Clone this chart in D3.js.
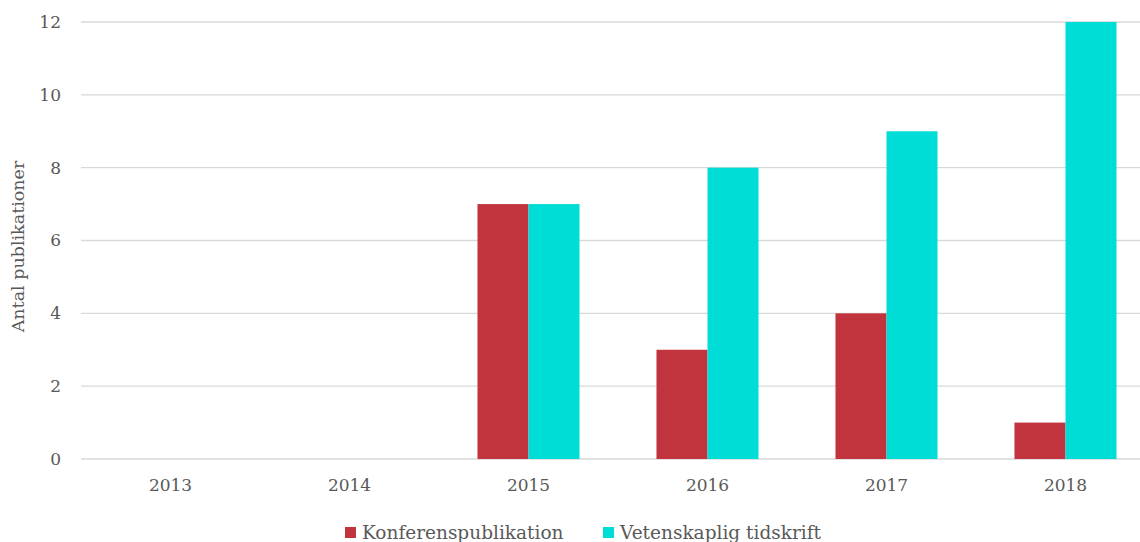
<!DOCTYPE html>
<html><head><meta charset="utf-8">
<script src="https://cdn.jsdelivr.net/npm/d3@7"></script>
<style>body{margin:0;background:#fff}svg{display:block}</style>
</head><body>
<svg id="c" width="1140" height="542"></svg>
<script>
const years = ["2013","2014","2015","2016","2017","2018"];
const seriesNames = ["Konferenspublikation","Vetenskaplig tidskrift"];
const konferens = [0,0,7,3,4,1];
const tidskrift = [0,0,7,8,9,12];
const yTicks = [0,2,4,6,8,10,12];
const colors = ["#C1343E","#00DCD6"];
const yTitle = "Antal publikationer";

(function(){
const svg = d3.select("#c");
const font = "Georgia, 'DejaVu Serif', serif";
const txt = "#595959";
const mLeft = 81, mRight = 1155, mTop = 22, mBottom = 459;

const x = d3.scaleBand().domain(years).range([mLeft, mRight]).paddingInner(0.43).paddingOuter(0.215);
const xs = d3.scaleBand().domain(seriesNames).range([0, x.bandwidth()]);
const y = d3.scaleLinear().domain([0,12]).range([mBottom, mTop]);

svg.append("g").selectAll("line").data(yTicks).join("line")
  .attr("x1", mLeft).attr("x2", mRight)
  .attr("y1", d => y(d)).attr("y2", d => y(d))
  .attr("stroke", "#d9d9d9").attr("stroke-width", 1.4);

const yAxis = svg.append("g").attr("transform", `translate(${mLeft},0)`)
  .call(d3.axisLeft(y).tickValues(yTicks).tickSize(0).tickPadding(20));
yAxis.select(".domain").remove();
yAxis.selectAll("text").attr("font-family", font).attr("font-size", 17).attr("fill", txt);

const data = years.map((yr, i) => ({yr, vals: [konferens[i], tidskrift[i]]}));
svg.append("g").selectAll("g").data(data).join("g")
  .attr("transform", d => `translate(${x(d.yr)},0)`)
  .selectAll("rect").data(d => d.vals.map((v, j) => ({v, s: seriesNames[j], j})))
  .join("rect")
  .attr("x", d => xs(d.s)).attr("width", xs.bandwidth())
  .attr("y", d => y(d.v)).attr("height", d => y(0) - y(d.v))
  .attr("fill", d => colors[d.j]);

const xAxis = svg.append("g").attr("transform", `translate(0,${mBottom})`)
  .call(d3.axisBottom(x).tickSize(0).tickPadding(20));
xAxis.select(".domain").remove();
xAxis.selectAll("text").attr("font-family", font).attr("font-size", 17).attr("fill", txt);

svg.append("text").attr("transform", `translate(24,${(mTop+mBottom)/2 + 6}) rotate(-90)`)
  .attr("text-anchor", "middle").attr("font-family", font).attr("font-size", 17.5)
  .attr("fill", txt).text(yTitle);

const legX = [345, 603];
const leg = svg.append("g").selectAll("g").data(seriesNames).join("g")
  .attr("transform", (d, i) => `translate(${legX[i]},0)`);
leg.append("rect").attr("x", 0).attr("y", 527).attr("width", 11).attr("height", 11)
  .attr("fill", (d, i) => colors[i]);
leg.append("text").attr("x", 17).attr("y", 539).attr("font-family", font)
  .attr("font-size", 18.5).attr("fill", txt).text(d => d);
})();
</script>
</body></html>
